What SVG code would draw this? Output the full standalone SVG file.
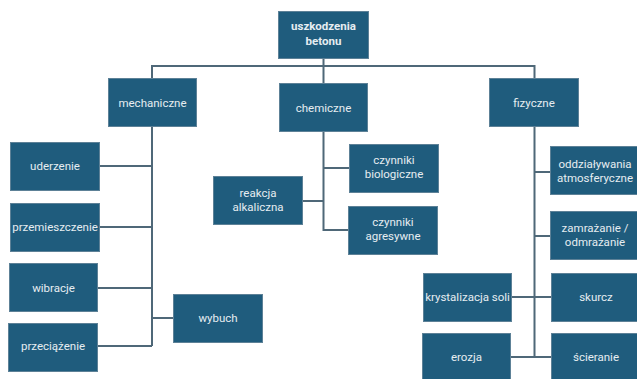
<svg xmlns="http://www.w3.org/2000/svg" width="637" height="379" viewBox="0 0 637 379">
<style>
.box{fill:#1f5c7d;stroke:#5d8197;stroke-width:1}
.t{font-family:Roboto,"Liberation Sans",sans-serif;font-size:11.5px;fill:#e6edf1;text-anchor:middle}
.b{font-weight:bold}
.c{fill:none;stroke:#4f6878;stroke-width:2}
</style>
<rect width="637" height="379" fill="#ffffff"/>
<g id="connectors">
<path class="c" d="M323.5 59V83M152 78V66H534.5V78M152 126V346M99 166H152M99 227H152M97 288H152M97 346H152M152 318H173"/>
<path class="c" d="M323.5 131V230H348M323.5 168H349M302 201H323.5"/>
<path class="c" d="M534.5 127V357M534.5 172H550M534.5 236H550M512 297H551M511 357H551"/>
</g>
<g id="root"><rect class="box" x="278.5" y="11.5" width="90" height="47"/><text class="t b" x="323.5" y="30">uszkodzenia</text><text class="t b" x="323.5" y="45">betonu</text></g>
<g id="mechaniczne"><rect class="box" x="108.5" y="78.5" width="88" height="48"/><text class="t" x="152.5" y="106.5">mechaniczne</text></g>
<g id="chemiczne"><rect class="box" x="279.5" y="83.5" width="88" height="48"/><text class="t" x="323.5" y="111.5">chemiczne</text></g>
<g id="fizyczne"><rect class="box" x="489.5" y="78.5" width="89" height="48"/><text class="t" x="534" y="106.5">fizyczne</text></g>
<g id="uderzenie"><rect class="box" x="10.5" y="142.5" width="89" height="48"/><text class="t" x="55" y="170">uderzenie</text></g>
<g id="przemieszczenie"><rect class="box" x="10.5" y="203.5" width="89" height="48"/><text class="t" x="55" y="231">przemieszczenie</text></g>
<g id="wibracje"><rect class="box" x="9.5" y="263.5" width="88" height="48"/><text class="t" x="53.5" y="292">wibracje</text></g>
<g id="przeciazenie"><rect class="box" x="8.5" y="323.5" width="89" height="48"/><text class="t" x="53" y="350">przeciążenie</text></g>
<g id="wybuch"><rect class="box" x="173.5" y="294.5" width="89" height="48"/><text class="t" x="218" y="322">wybuch</text></g>
<g id="reakcja"><rect class="box" x="213.5" y="176.5" width="89" height="48"/><text class="t" x="258" y="197">reakcja</text><text class="t" x="258" y="211">alkaliczna</text></g>
<g id="biologiczne"><rect class="box" x="349.5" y="144.5" width="89" height="48"/><text class="t" x="394" y="164">czynniki</text><text class="t" x="394" y="178">biologiczne</text></g>
<g id="agresywne"><rect class="box" x="348.5" y="206.5" width="89" height="48"/><text class="t" x="393" y="226">czynniki</text><text class="t" x="393" y="240">agresywne</text></g>
<g id="atmosferyczne"><rect class="box" x="550.5" y="146.5" width="90" height="48"/><text class="t" x="595" y="168">oddziaływania</text><text class="t" x="595" y="182">atmosferyczne</text></g>
<g id="zamrazanie"><rect class="box" x="550.5" y="211.5" width="90" height="48"/><text class="t" x="595" y="232">zamrażanie /</text><text class="t" x="595" y="246">odmrażanie</text></g>
<g id="skurcz"><rect class="box" x="551.5" y="273.5" width="90" height="48"/><text class="t" x="596" y="301">skurcz</text></g>
<g id="scieranie"><rect class="box" x="551.5" y="333.5" width="90" height="48"/><text class="t" x="596" y="361">ścieranie</text></g>
<g id="krystalizacja"><rect class="box" x="423.5" y="273.5" width="88" height="48"/><text class="t" x="467.5" y="301">krystalizacja soli</text></g>
<g id="erozja"><rect class="box" x="422.5" y="333.5" width="88" height="48"/><text class="t" x="466.5" y="361">erozja</text></g>
</svg>
